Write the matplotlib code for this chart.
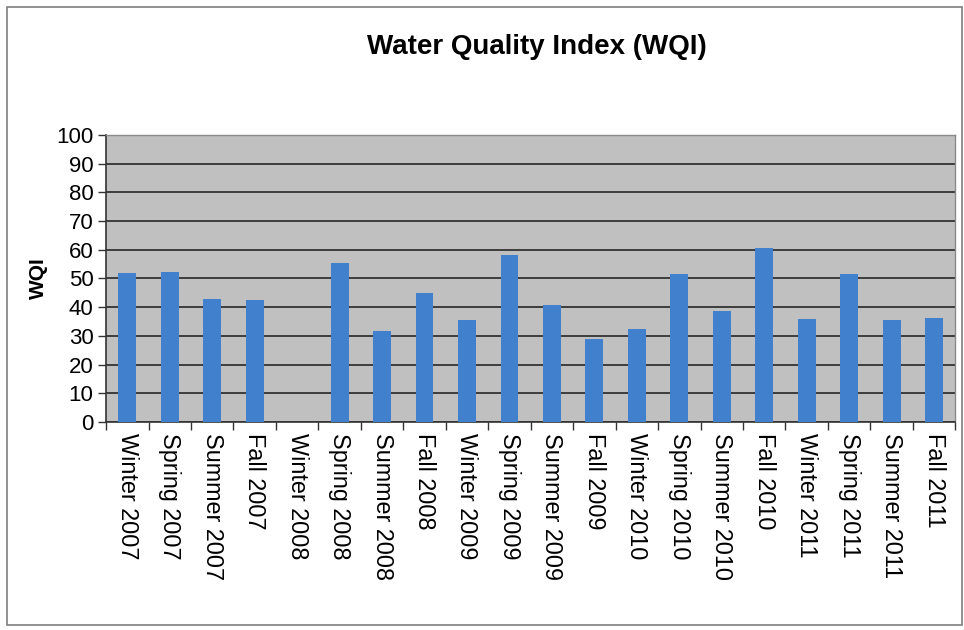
import matplotlib.pyplot as plt
import numpy as np
from matplotlib.patches import Rectangle

plt.rcParams['font.family'] = ['Liberation Sans', 'DejaVu Sans']

# Данные индекса качества воды
seasons = ['Winter 2007', 'Spring 2007', 'Summer 2007', 'Fall 2007',
           'Winter 2008', 'Spring 2008', 'Summer 2008', 'Fall 2008',
           'Winter 2009', 'Spring 2009', 'Summer 2009', 'Fall 2009',
           'Winter 2010', 'Spring 2010', 'Summer 2010', 'Fall 2010',
           'Winter 2011', 'Spring 2011', 'Summer 2011', 'Fall 2011']
wqi = [52, 52.3, 42.7, 42.4,
       np.nan, 55.5, 31.7, 45,
       35.5, 58.2, 40.7, 29,
       32.3, 51.5, 38.7, 60.5,
       36, 51.5, 35.5, 36.4]
y_ticks = list(range(0, 101, 10))

fig = plt.figure(figsize=(9.64, 6.3), dpi=100)
ax = fig.add_axes([0.110, 0.330, 0.881, 0.456])

x = np.arange(len(seasons))
ax.bar(x, wqi, width=0.42, color='#4180cc', zorder=3)

ax.set_facecolor('#c0c0c0')
ax.set_xlim(-0.5, len(seasons) - 0.5)
ax.set_ylim(0, 100)
ax.set_yticks(y_ticks)
ax.yaxis.grid(True, color='#1a1a1a', linewidth=1.1, zorder=1)

# Подписи по центру, засечки на границах категорий
ax.set_xticks(x)
ax.set_xticklabels(seasons, rotation=-90, fontsize=16.8, va='top', ha='center')
ax.tick_params(axis='x', which='major', length=0, pad=8)
ax.set_xticks(np.arange(-0.5, len(seasons)), minor=True)
ax.tick_params(axis='x', which='minor', length=6, width=1, color='#333333',
               direction='out')
ax.tick_params(axis='y', labelsize=16, length=6, width=1, color='#333333',
               direction='out', pad=3)

for side in ['top', 'right']:
    ax.spines[side].set_color('#8a8a8a')
    ax.spines[side].set_linewidth(1)
for side in ['left', 'bottom']:
    ax.spines[side].set_color('#333333')
    ax.spines[side].set_linewidth(1.2)

ax.set_ylabel('WQI', fontsize=15, fontweight='bold', labelpad=6)
fig.text(0.557, 0.925, 'Water Quality Index (WQI)', fontsize=20,
         fontweight='bold', ha='center', va='center')

# Рамка вокруг всей диаграммы
fig.patches.append(Rectangle((0.007, 0.008), 0.991, 0.981, transform=fig.transFigure,
                             fill=False, edgecolor='#7f7f7f', linewidth=1.2))

fig.savefig('out.png', dpi=100, facecolor='white')
